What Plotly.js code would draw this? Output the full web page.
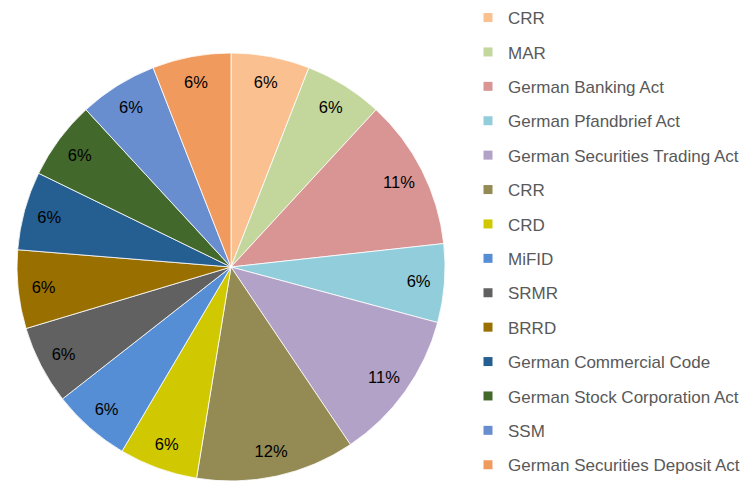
<!DOCTYPE html>
<html>
<head>
<meta charset="utf-8">
<script src="https://cdn.plot.ly/plotly-3.0.1.min.js"></script>
<style>html,body{margin:0;padding:0;background:#fff;}#chart{width:745px;height:503px;}</style>
</head>
<body>
<div id="chart"></div>
<script>
const categories = [
  "CRR", "MAR", "German Banking Act", "German Pfandbrief Act",
  "German Securities Trading Act", "CRR", "CRD", "MiFID", "SRMR", "BRRD",
  "German Commercial Code", "German Stock Corporation Act", "SSM",
  "German Securities Deposit Act"
];
const shares = [5.93, 5.93, 11.4, 5.93, 11.4, 12.0, 5.93, 5.93, 5.93, 5.93, 5.93, 5.93, 5.93, 5.93];
const colors = [
  "#FAC090", "#C3D69B", "#D99594", "#92CDDC", "#B2A2C7", "#948A54", "#D0C800",
  "#558ED5", "#616161", "#996F00", "#255E91", "#43682B", "#698ED0", "#F19A5E"
];

// unique ids so the two "CRR" entries are not merged by the pie
const sliceIds = categories.map((c, i) => c + "\u200B".repeat(i));
const pieDomain = { x: [17 / 745, 445 / 745], y: [22 / 503, 450 / 503] };

const pie = {
  type: "pie",
  labels: sliceIds,
  values: shares,
  sort: false,
  direction: "clockwise",
  rotation: 0,
  marker: { colors: colors, line: { color: "#ffffff", width: 0.8 } },
  textinfo: "none",
  showlegend: false,
  hoverinfo: "label+percent",
  domain: pieDomain
};

// transparent ring carrying the percentage labels near the rim
const labelRing = {
  type: "pie",
  labels: sliceIds,
  values: shares,
  sort: false,
  direction: "clockwise",
  rotation: 0,
  hole: 0.76,
  marker: { colors: shares.map(() => "rgba(0,0,0,0)"), line: { width: 0 } },
  texttemplate: "%{percent:.0%}",
  textposition: "inside",
  insidetextorientation: "horizontal",
  textfont: { family: "Liberation Sans, Arial, sans-serif", size: 16.5, color: "#000000" },
  showlegend: false,
  hoverinfo: "skip",
  domain: pieDomain
};

const legendTraces = categories.map((c, i) => ({
  type: "scatter",
  mode: "markers",
  x: [null], y: [null],
  name: c,
  legendgroup: "g" + i,
  marker: { symbol: "square", size: 9, color: colors[i] },
  showlegend: true,
  hoverinfo: "skip"
}));

const layout = {
  width: 745, height: 503,
  margin: { l: 0, r: 0, t: 0, b: 0 },
  paper_bgcolor: "#ffffff",
  plot_bgcolor: "#ffffff",
  xaxis: { visible: false, domain: [0.99, 1] },
  yaxis: { visible: false, domain: [0.99, 1] },
  showlegend: true,
  legend: {
    x: 468 / 745, xanchor: "left",
    y: 1, yanchor: "top",
    tracegroupgap: 9.3,
    font: { family: "Liberation Sans, Arial, sans-serif", size: 17, color: "#595959" },
    bgcolor: "rgba(0,0,0,0)"
  }
};

Plotly.newPlot("chart", [pie, labelRing].concat(legendTraces), layout, { displayModeBar: false, staticPlot: true });
</script>
</body>
</html>
